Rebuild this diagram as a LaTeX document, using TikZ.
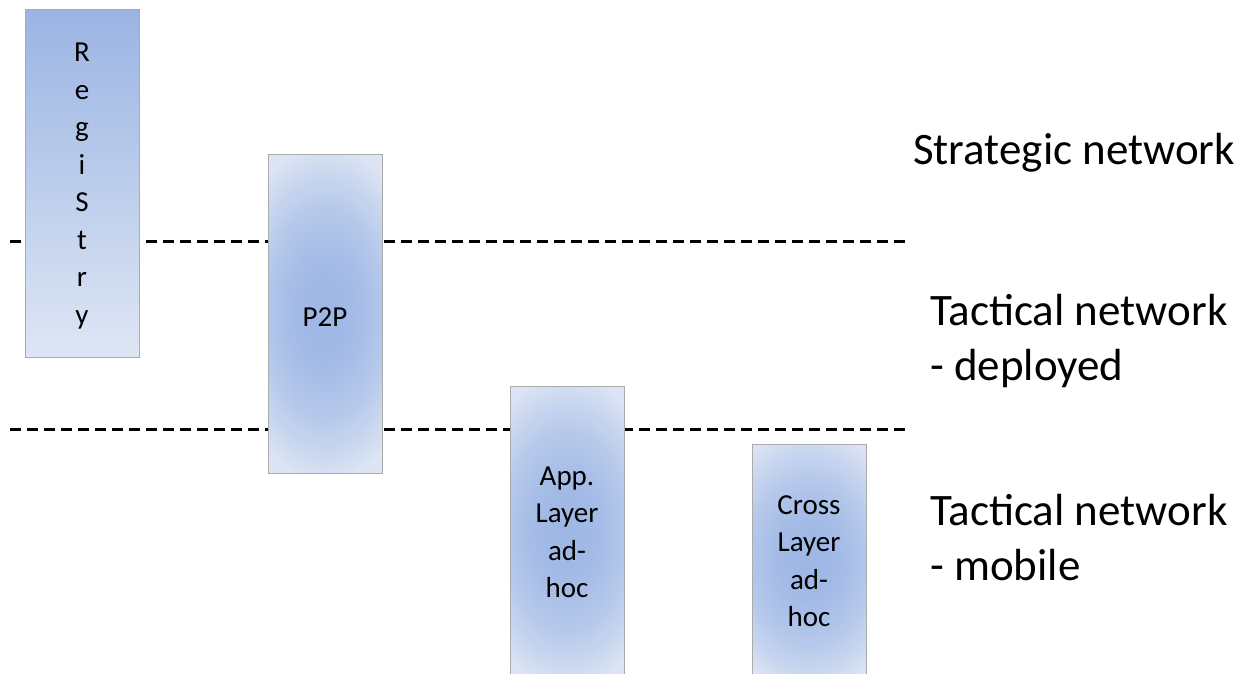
\documentclass[tikz,border=0pt]{standalone}
\usepackage{fontspec}
\setmainfont{Carlito}

\definecolor{regtop}{HTML}{9AB4E3}
\definecolor{regbottom}{HTML}{DEE6F4}
\definecolor{glowcore}{HTML}{9EB7E5}
\definecolor{glowrim}{HTML}{DDE5F4}
\definecolor{boxline}{HTML}{ABABAB}

\newcommand{\stacked}[1]{\begin{tabular}[t]{@{}c@{}}#1\end{tabular}}
\newcommand{\leftstacked}[1]{\begin{tabular}[t]{@{}l@{}}#1\end{tabular}}

\tikzset{
  divider/.style={black, line width=3pt, dash pattern=on 10.5pt off 6.5pt},
  layerbox/.style={draw=boxline, line width=0.9pt, inner sep=0pt,
    minimum width=114pt},
  % soft elliptic glow around the box centre, built from nested ellipses
  glowbox/.style 2 args={layerbox, fill=glowrim,
    path picture={
      \foreach \k in {48,47,...,1}{
        \pgfmathsetmacro\glowmix{100*(1-(\k/48)^2)}
        \fill[glowcore!\glowmix!glowrim] (path picture bounding box.center)
          ellipse [x radius=\k/48*#1, y radius=\k/48*#2];
      }}},
  boxlabel/.style={inner sep=0pt, anchor=base,
    font=\fontsize{29}{37.5}\selectfont},
  netlabel/.style={inner sep=0pt, anchor=base west,
    font=\fontsize{45}{55}\selectfont},
}

\begin{document}
\begin{tikzpicture}[x=1pt, y=-1pt]
\useasboundingbox (0,0) rectangle (1257,673);

% layer boundaries
\coordinate (upper-w) at (10,241);
\coordinate (upper-e) at (907,241);
\coordinate (lower-w) at (10,429);
\coordinate (lower-e) at (907,429);
\draw[divider] (upper-w) -- (upper-e);
\draw[divider] (lower-w) -- (lower-e);

% component boxes
\node[layerbox, top color=regtop, bottom color=regbottom,
      minimum height=348pt] (registry) at (82,183) {};
\node[glowbox={100pt}{170pt}, minimum height=319pt] (p2p) at (325,313.5) {};
\node[glowbox={100pt}{160pt}, minimum height=292pt] (app) at (567,532) {};
\node[glowbox={100pt}{135pt}, minimum height=234pt] (cross) at (809,561) {};

% box captions
\node[boxlabel] (registry-text) at (82,61.7) {\stacked{R\\e\\g\\i\\S\\t\\r\\y}};
\node[boxlabel] (p2p-text) at (325,326.5) {P2P};
\node[boxlabel] (app-text) at (567,485) {\stacked{App.\\Layer\\ad-\\hoc}};
\node[boxlabel] (cross-text) at (809,514) {\stacked{Cross\\Layer\\ad-\\hoc}};

% network tiers
\node[netlabel] (strategic) at (913,164) {Strategic network};
\node[netlabel] (deployed) at (930,325) {\leftstacked{Tactical network\\- deployed}};
\node[netlabel] (mobile) at (930,525) {\leftstacked{Tactical network\\- mobile}};
\end{tikzpicture}
\end{document}
